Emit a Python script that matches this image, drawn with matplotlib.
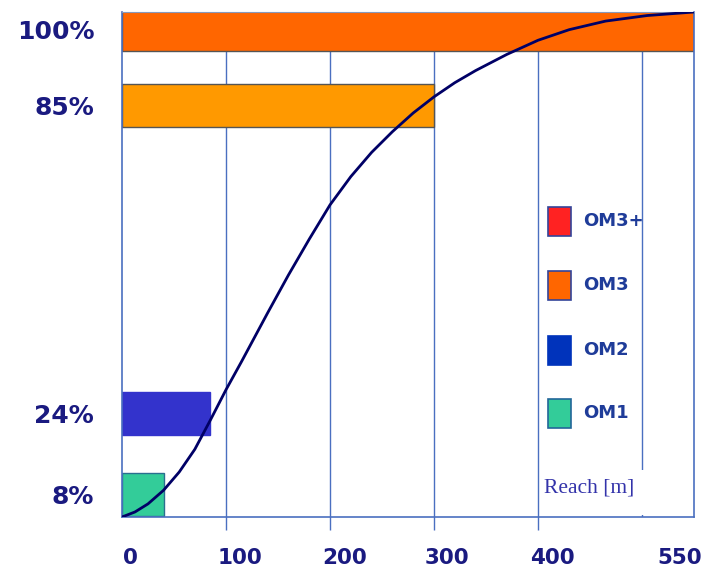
import matplotlib
matplotlib.use('Agg')
import matplotlib.pyplot as plt
from matplotlib.patches import Rectangle
from matplotlib.transforms import ScaledTranslation

# bar data: share of links (label) and reach in metres
bar_labels = ['100%', '85%', '24%', '8%']
bar_values = [100, 85, 24, 8]
bar_reach = [550, 300, 85, 40]
bar_colors = ['#ff6600', '#ff9900', '#3333cc', '#33cc99']
bar_edges = ['#555555', '#555555', '#3333cc', '#2a6f8f']

# curve (reach m, cumulative %)
curve_x = [0, 12.5, 25, 40, 55, 70, 85, 100, 115, 140, 160, 180, 200, 220, 240,
           260, 280, 300, 320, 340, 370, 400, 430, 465, 505, 550]
curve_y = [0, 1.0, 2.6, 5.3, 8.9, 13.4, 19.2, 25.2, 30.8, 40.4, 47.9, 55.0, 61.8, 67.4, 72.2,
           76.3, 80.0, 83.2, 86.0, 88.4, 91.6, 94.4, 96.5, 98.2, 99.3, 100]

x_ticks = [0, 100, 200, 300, 400, 550]
x_tick_labels = ['0', '100', '200', '300', '400', '550']
grid_x = [100, 200, 300, 400, 500]

legend_labels = ['OM3+', 'OM3', 'OM2', 'OM1']
legend_colors = ['#ff2222', '#ff6600', '#0033bb', '#33cc99']
legend_edges = ['#334499', '#334499', '#0033bb', '#226699']

navy = '#1a1a80'
line_blue = '#4a6fc0'
W, H = 706, 573

fig = plt.figure(figsize=(W / 100, H / 100), dpi=100)
ax = fig.add_axes([122 / W, 1 - 517 / H, 572 / W, 505 / H])
ax.set_xlim(0, 550)
ax.set_ylim(0, 100)

# grid lines, the first four run a bit below the axis
ax.vlines(grid_x[:4], -2.6, 100, colors=line_blue, lw=1.0, zorder=1, clip_on=False)
ax.vlines(grid_x[4:], 0, 100, colors=line_blue, lw=1.0, zorder=1)

bar_h = 8.6
bottoms = [v - 7.8 for v in bar_values]
ax.barh(bottoms, bar_reach, height=bar_h, align='edge', color=bar_colors,
        edgecolor=bar_edges, linewidth=1.0, zorder=2)

ax.plot(curve_x, curve_y, color='#000066', lw=2.0, zorder=4,
        solid_capstyle='round', solid_joinstyle='round')

# white patch behind the axis title
ax.add_patch(Rectangle((403, 0.4), 145, 8.9, facecolor='white', edgecolor='none', zorder=3))
ax.text(406, 5.7, 'Reach [m]', family='Liberation Serif', fontsize=15.5, color='#3333aa',
        va='center', ha='left', zorder=5)

for side in ['left', 'bottom', 'right']:
    ax.spines[side].set_color(line_blue)
    ax.spines[side].set_linewidth(1.2)
ax.spines['top'].set_color('#8899bb')
ax.spines['top'].set_linewidth(0.8)

ax.set_xticks(x_ticks, x_tick_labels)
ax.set_yticks([b + bar_h / 2 for b in bottoms], bar_labels)
ax.tick_params(axis='x', length=0, pad=22, labelsize=15.5, labelcolor=navy)
ax.tick_params(axis='y', length=0, pad=20, labelsize=18, labelcolor=navy)
for lab in ax.get_xticklabels() + ax.get_yticklabels():
    lab.set_fontweight('bold')

x_shift = [8, 14, 15, 13, 14, -14]
for lab, dx in zip(ax.get_xticklabels(), x_shift):
    lab.set_transform(lab.get_transform() + ScaledTranslation(dx / 100, 0, fig.dpi_scale_trans))

# legend drawn by hand: squares and labels
legend_y = [221, 285, 350, 413]
for lab, c, e, yc in zip(legend_labels, legend_colors, legend_edges, legend_y):
    fig.add_artist(Rectangle((548 / W, 1 - (yc + 14.5) / H), 23 / W, 29 / H,
                             transform=fig.transFigure, facecolor=c, edgecolor=e, lw=1.2))
    fig.text(583 / W, 1 - yc / H, lab, fontsize=13, fontweight='bold', color='#1f3c99',
             va='center', ha='left')

fig.savefig('out.png', dpi=100)
